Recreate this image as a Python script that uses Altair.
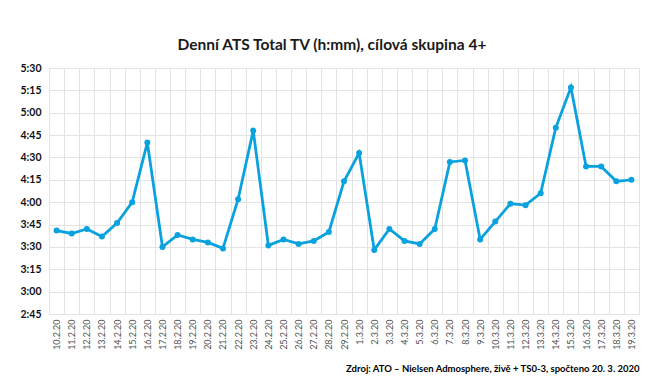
import json
import altair as alt
import pandas as pd

dates = ["10.2.20", "11.2.20", "12.2.20", "13.2.20", "14.2.20", "15.2.20", "16.2.20",
         "17.2.20", "18.2.20", "19.2.20", "20.2.20", "21.2.20", "22.2.20", "23.2.20",
         "24.2.20", "25.2.20", "26.2.20", "27.2.20", "28.2.20", "29.2.20", "1.3.20",
         "2.3.20", "3.3.20", "4.3.20", "5.3.20", "6.3.20", "7.3.20", "8.3.20", "9.3.20",
         "10.3.20", "11.3.20", "12.3.20", "13.3.20", "14.3.20", "15.3.20", "16.3.20",
         "17.3.20", "18.3.20", "19.3.20"]
ats = ["3:41", "3:39", "3:42", "3:37", "3:46", "4:00", "4:40", "3:30", "3:38", "3:35",
       "3:33", "3:29", "4:02", "4:48", "3:31", "3:35", "3:32", "3:34", "3:40", "4:14",
       "4:33", "3:28", "3:42", "3:34", "3:32", "3:42", "4:27", "4:28", "3:35", "3:47",
       "3:59", "3:58", "4:06", "4:50", "5:17", "4:24", "4:24", "4:14", "4:15"]
y_ticks = ["2:45", "3:00", "3:15", "3:30", "3:45", "4:00", "4:15", "4:30", "4:45",
           "5:00", "5:15", "5:30"]

title = "Denní ATS Total TV (h:mm), cílová skupina 4+"
source = "Zdroj: ATO – Nielsen Admosphere, živě + TS0-3, spočteno 20. 3. 2020"


def to_min(s):
    h, m = s.split(":")
    return int(h) * 60 + int(m)


df = pd.DataFrame({"i": list(range(len(dates))), "date": dates,
                   "min": [to_min(v) for v in ats]})

n = len(dates)
y_vals = [to_min(t) for t in y_ticks]
x_dom = [-0.5, n - 0.5]
grid_vals = [k - 0.5 for k in range(n + 1)]

FONT = "Lato"
BLUE = "#0AA2DE"

y_enc = alt.Y("min:Q",
              scale=alt.Scale(domain=[y_vals[0], y_vals[-1]], nice=False, zero=False),
              axis=alt.Axis(values=y_vals, grid=True, gridColor="#e3e3e3", domain=False,
                            ticks=False, labelFont=FONT, labelFontSize=10.5,
                            labelFontWeight="bold", labelColor="#111111", labelPadding=8,
                            title=None,
                            labelExpr="floor(datum.value/60) + ':' + (datum.value%60 < 10 ? '0' : '') + (datum.value%60)"))

line = alt.Chart(df).mark_line(color=BLUE, strokeWidth=2.8,
                               point=alt.OverlayMarkDef(color=BLUE, size=36, filled=True, opacity=1)).encode(
    x=alt.X("i:Q", scale=alt.Scale(domain=x_dom, nice=False, zero=False),
            axis=alt.Axis(values=list(range(n)), grid=False, domain=False, ticks=False,
                          labelAngle=270, labelAlign="right", labelBaseline="middle",
                          labelFont=FONT, labelFontSize=9, labelColor="#505050",
                          labelPadding=5, labelOverlap=False,
                          labelExpr=json.dumps(dates) + "[datum.value]",
                          title=source, titleFont=FONT, titleFontSize=9.5,
                          titleFontWeight="bold", titleColor="#000000",
                          titleAnchor="end", titleAlign="right", titlePadding=14)),
    y=y_enc,
)

grid = alt.Chart(df).mark_point(opacity=0).encode(
    x=alt.X("i:Q", scale=alt.Scale(domain=x_dom, nice=False, zero=False),
            axis=alt.Axis(orient="top", values=grid_vals, grid=True, gridColor="#e3e3e3",
                          labels=False, ticks=False, domain=False, title=None)),
)

chart = alt.layer(grid, line).resolve_axis(x="independent").properties(
    width=590, height=246,
    autosize=alt.AutoSizeParams(type="none"),
    padding={"left": 41, "top": 60, "right": 16, "bottom": 64},
    title=alt.TitleParams(title, font=FONT, fontSize=15.5, fontWeight="bold",
                          color="#1a1a1a", anchor="middle", offset=10, dx=-12),
).configure_view(stroke=None)

chart.save("out.html", embed_options={"renderer": "svg", "actions": False})
